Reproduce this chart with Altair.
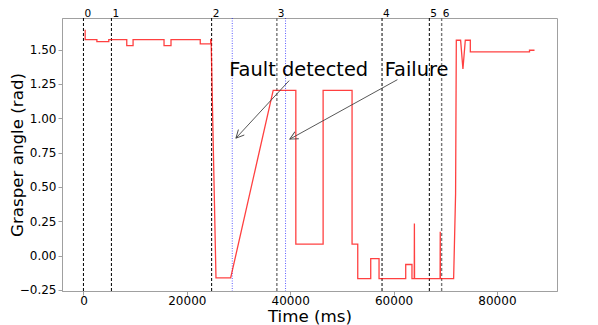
import math
import altair as alt
import pandas as pd

# ---- data ----
time_ms = [200, 330, 330, 2600, 2600, 4900, 4900, 8380, 8380, 9600, 9600, 15590, 15590,
           16940, 16940, 22600, 22600, 24610, 24610, 24700, 25640, 28480, 36710, 41090,
           41090, 46370, 46370, 51970, 51970, 53070, 53070, 55580, 55580, 57190, 57190,
           62350, 62350, 63560, 63560, 64000, 64030, 64060, 69000, 69030, 69060,
           71620, 72000, 72140, 72970, 73420, 73880, 74850, 74850, 86300, 86300, 87270]
angle_rad = [1.640, 1.640, 1.573, 1.573, 1.558, 1.558, 1.573, 1.573, 1.529, 1.529, 1.573, 1.573, 1.529,
             1.529, 1.573, 1.573, 1.541, 1.541, 1.573, 1.573, -0.163, -0.163, 1.203, 1.203,
             0.083, 0.083, 1.203, 1.203, 0.083, 0.083, -0.168, -0.168, -0.022, -0.022, -0.168,
             -0.168, -0.065, -0.065, -0.168, -0.168, 0.234, -0.168, -0.168, 0.173, -0.168,
             -0.168, 0.450, 1.568, 1.568, 1.359, 1.568, 1.568, 1.483, 1.483, 1.495, 1.495]

event_times = [0, 5410, 24800, 37420, 57770, 66920, 69300]
event_labels = ["0", "1", "2", "3", "4", "5", "6"]
gray_event_labels = ["3", "6"]
detect_times = [28790, 39100]

x_ticks = [0, 20000, 40000, 60000, 80000]
y_ticks = [-0.25, 0.0, 0.25, 0.50, 0.75, 1.00, 1.25, 1.50]

note_text = ["Fault detected", "Failure"]
note_t = [28200, 58290]
note_v = [1.310, 1.310]
arrow_tail_t = [39800, 60740]
arrow_tail_v = [1.274, 1.281]
arrow_tip_t = [29500, 39930]
arrow_tip_v = [0.855, 0.848]

# ---- layout ----
W, H = 495, 273
XDOM = [-4150, 91620]
YDOM = [-0.258, 1.730]
FONT = "DejaVu Sans"
XT = "Time (ms)"
YT = "Grasper angle (rad)"

kx = W / (XDOM[1] - XDOM[0])
ky = H / (YDOM[1] - YDOM[0])
angles = []
for tt, tv, pt, pv in zip(arrow_tail_t, arrow_tail_v, arrow_tip_t, arrow_tip_v):
    a = math.degrees(math.atan2(-(pv - tv) * ky, (pt - tt) * kx)) % 360
    angles.append(a)

line_df = pd.DataFrame({"t": time_ms, "v": angle_rad, "i": list(range(len(time_ms)))})
ev_df = pd.DataFrame({"t": event_times, "label": event_labels})
ev_df["gray"] = ev_df["label"].isin(gray_event_labels)
det_df = pd.DataFrame({"t": detect_times})
note_df = pd.DataFrame({"text": note_text, "t": note_t, "v": note_v})
arr_df = pd.DataFrame({"t": arrow_tail_t, "v": arrow_tail_v, "t2": arrow_tip_t,
                       "v2": arrow_tip_v, "ang": angles})
head_df = pd.DataFrame({"t": arrow_tip_t, "v": arrow_tip_v, "ang": angles})

xs = alt.Scale(domain=XDOM, nice=False, zero=False)
ys = alt.Scale(domain=YDOM, nice=False, zero=False)

X_AXIS = alt.Axis(values=x_ticks, format="d", titleX=W / 2, titleY=30,
                  titleBaseline="alphabetic", titleAlign="center", labelPadding=0)
Y_AXIS = alt.Axis(values=y_ticks,
                  labelExpr="replace(format(datum.value, '.2f'), '-', '\u2212')",
                  titleAngle=270, titleX=-45, titleY=H / 2, titleAlign="center",
                  titleBaseline="middle", labelPadding=2)


def X(field="t"):
    return alt.X(f"{field}:Q", scale=xs, title=XT, axis=X_AXIS)


def Y(field="v"):
    return alt.Y(f"{field}:Q", scale=ys, title=YT, axis=Y_AXIS)


line = alt.Chart(line_df).mark_line(color="red", strokeWidth=1.3, opacity=0.75).encode(
    x=X(), y=Y(), order="i:Q")

black_rules = alt.Chart(ev_df).transform_filter("!datum.gray").mark_rule(
    color="black", strokeWidth=1, strokeDash=[3, 2]).encode(x=X())
gray_rules = alt.Chart(ev_df).transform_filter("datum.gray").mark_rule(
    color="#777777", strokeWidth=1.4, strokeDash=[3, 2]).encode(x=X())
blue_rules = alt.Chart(det_df).mark_rule(
    color="blue", strokeWidth=0.8, strokeDash=[1, 1.5], opacity=0.8).encode(x=X())

ev_labels = alt.Chart(ev_df).mark_text(
    align="left", baseline="alphabetic", fontSize=10.5, font=FONT, dx=1, color="black").encode(
    x=X(), y=alt.value(-1.5), text="label:N")

arrows = alt.Chart(arr_df).mark_rule(color="#444444", strokeWidth=0.9).encode(
    x=X(), y=Y(), x2=alt.X2("t2:Q", title=XT), y2=alt.Y2("v2:Q", title=YT))
heads = alt.Chart(head_df).mark_point(
    shape="M -1 -0.5 L 0 0 L -1 0.5", filled=False, size=256, color="#444444",
    strokeWidth=0.9, opacity=1).encode(
    x=X(), y=Y(), angle=alt.Angle("ang:Q", scale=None))

notes = alt.Chart(note_df).mark_text(
    align="left", baseline="alphabetic", fontSize=19.4, font=FONT, color="black").encode(
    x=X(), y=Y(), text="text:N")

chart = alt.layer(black_rules, gray_rules, blue_rules, line, arrows, heads, notes, ev_labels).properties(
    width=W, height=H,
    autosize=alt.AutoSizeParams(type="none"),
    padding={"left": 54, "top": 10, "right": 30, "bottom": 34},
    background="white",
).configure_view(
    stroke="#a0a0a0", strokeWidth=1
).configure_axis(
    grid=False, labelFont=FONT, labelFontSize=12, labelColor="black",
    titleFont=FONT, titleFontSize=16.7, titleFontWeight="normal", titleColor="black",
    domainColor="#a0a0a0", tickColor="#a0a0a0", tickSize=4,
)

chart.save("out.html", embed_options={"renderer": "svg", "actions": False})
